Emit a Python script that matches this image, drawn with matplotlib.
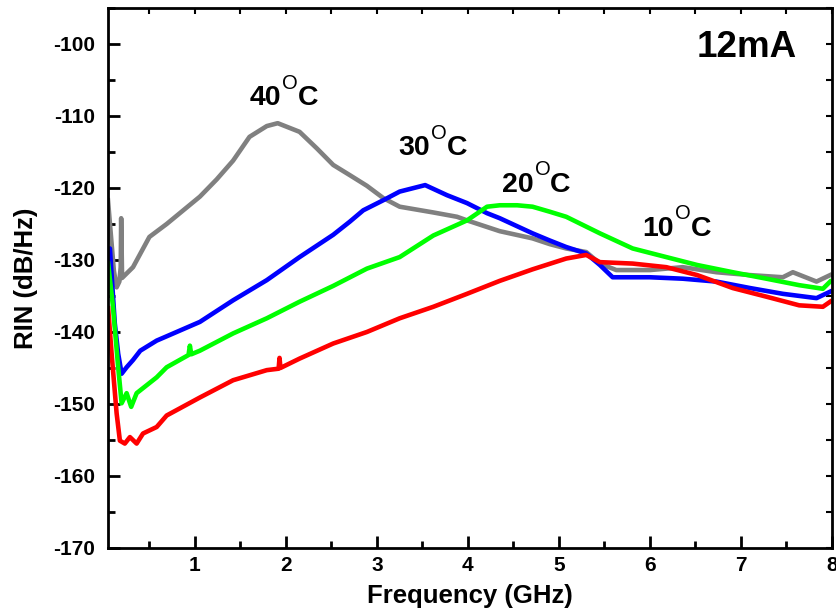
import matplotlib
matplotlib.use('Agg')
import matplotlib.pyplot as plt
from matplotlib.ticker import MultipleLocator

plt.rcParams['font.family'] = ['Liberation Sans', 'DejaVu Sans']
plt.rcParams['font.weight'] = 'bold'
plt.rcParams['axes.unicode_minus'] = False

# RIN spectra at 12 mA (GHz, dB/Hz)
f_40 = [0.045, 0.08, 0.11, 0.14, 0.17, 0.185, 0.19, 0.2, 0.32, 0.5, 0.69, 1.055, 1.24,
        1.42, 1.6, 1.79, 1.91, 2.15, 2.34, 2.52, 2.7, 2.89, 3.07, 3.25, 3.62, 3.88,
        3.99, 4.35, 4.71, 4.9, 5.08, 5.3, 5.45, 5.63, 6.0, 6.36, 6.73, 7.1, 7.46, 7.57,
        7.83, 7.98]
rin_40 = [-121.7, -127.0, -131.5, -133.8, -133.0, -131.0, -124.2, -132.5, -131.0, -126.8,
          -125.0, -121.2, -118.8, -116.2, -112.9, -111.4, -111.0, -112.2, -114.5, -116.8,
          -118.2, -119.7, -121.4, -122.6, -123.4, -124.0, -124.5, -126.0, -127.0, -127.8,
          -128.4, -128.9, -130.5, -131.4, -131.4, -131.0, -131.7, -132.1, -132.4, -131.7,
          -133.0, -132.1]

f_30 = [0.045, 0.066, 0.12, 0.157, 0.195, 0.25, 0.32, 0.4, 0.58, 0.69, 1.055, 1.42, 1.79,
        2.15, 2.52, 2.7, 2.85, 3.07, 3.25, 3.53, 3.77, 3.99, 4.21, 4.35, 4.71, 4.9, 5.08,
        5.3, 5.45, 5.59, 6.0, 6.36, 6.73, 7.1, 7.46, 7.83, 7.98]
rin_30 = [-130.0, -128.4, -138.8, -143.0, -145.8, -144.9, -143.9, -142.6, -141.2, -140.6,
          -138.6, -135.6, -132.8, -129.6, -126.5, -124.7, -123.1, -121.7, -120.5, -119.6,
          -121.0, -122.1, -123.5, -124.2, -126.3, -127.3, -128.2, -129.1, -130.7, -132.4,
          -132.4, -132.6, -133.0, -133.9, -134.7, -135.3, -134.4]

f_20 = [0.047, 0.1, 0.157, 0.195, 0.25, 0.3, 0.36, 0.58, 0.69, 0.93, 0.945, 0.96, 1.055,
        1.42, 1.79, 2.15, 2.52, 2.89, 3.25, 3.62, 3.99, 4.21, 4.35, 4.54, 4.71, 4.9,
        5.08, 5.45, 5.81, 6.18, 6.52, 6.91, 7.28, 7.64, 7.9, 7.98]
rin_20 = [-130.5, -136.5, -144.9, -149.9, -148.5, -150.4, -148.5, -146.3, -144.9, -143.2,
          -141.9, -143.1, -142.6, -140.2, -138.1, -135.8, -133.6, -131.2, -129.6, -126.6,
          -124.5, -122.6, -122.4, -122.4, -122.6, -123.3, -124.0, -126.3, -128.4, -129.6,
          -130.7, -131.7, -132.6, -133.5, -134.0, -133.0]

f_10 = [0.047, 0.085, 0.14, 0.176, 0.23, 0.286, 0.36, 0.43, 0.58, 0.69, 1.055, 1.42,
        1.79, 1.92, 1.93, 1.94, 2.15, 2.52, 2.89, 3.25, 3.62, 3.99, 4.35, 4.71, 5.08,
        5.3, 5.45, 5.81, 6.18, 6.52, 6.91, 7.28, 7.64, 7.9, 7.98]
rin_10 = [-136.7, -143.0, -151.3, -155.1, -155.5, -154.6, -155.5, -154.1, -153.2, -151.6,
          -149.1, -146.7, -145.3, -145.1, -143.6, -145.0, -143.7, -141.6, -140.0, -138.1,
          -136.5, -134.7, -132.9, -131.3, -129.8, -129.3, -130.3, -130.5, -131.0, -132.1,
          -133.9, -135.1, -136.3, -136.5, -135.8]

# label text and anchor (GHz, dB/Hz baseline)
temp_labels = ['40', '30', '20', '10']
temp_x = [1.60, 3.23, 4.37, 5.91]
temp_y = [-108.5, -115.4, -120.5, -126.6]

fig = plt.figure(figsize=(8.37, 6.15), dpi=100)
ax = fig.add_axes([0.129, 0.109, 0.865, 0.878])

ax.plot(f_40, rin_40, color='#808080', lw=3.3)
ax.plot(f_30, rin_30, color='#0000ff', lw=3.3)
ax.plot(f_20, rin_20, color='#00ff00', lw=3.3)
ax.plot(f_10, rin_10, color='#ff0000', lw=3.3)

ax.set_xlim(0.045, 8)
ax.set_ylim(-170, -95)
ax.xaxis.set_major_locator(MultipleLocator(1))
ax.xaxis.set_minor_locator(MultipleLocator(0.5))
ax.yaxis.set_major_locator(MultipleLocator(10))
ax.yaxis.set_minor_locator(MultipleLocator(5))
ax.tick_params(which='major', direction='in', length=8.5, width=2, labelsize=15)
ax.tick_params(which='minor', direction='in', length=5, width=2)
ax.tick_params(axis='y', pad=9)
ax.tick_params(axis='x', pad=6)
for s in ax.spines.values():
    s.set_linewidth(2)

# short ticks on top and right edges
top = ax.secondary_xaxis('top')
top.xaxis.set_major_locator(MultipleLocator(1))
top.xaxis.set_minor_locator(MultipleLocator(0.5))
top.tick_params(which='both', direction='in', length=4, width=1.5, labeltop=False)
right = ax.secondary_yaxis('right')
right.yaxis.set_major_locator(MultipleLocator(5))
right.tick_params(which='both', direction='in', length=4, width=1.5, labelright=False)

ax.set_xlabel('Frequency (GHz)', fontsize=18.5, fontweight='bold', labelpad=6)
ax.set_ylabel('RIN (dB/Hz)', fontsize=18.5, fontweight='bold', labelpad=11)

for txt, x, y in zip(temp_labels, temp_x, temp_y):
    t1 = ax.text(x, y, txt, fontsize=20.5, fontweight='bold', ha='left', va='baseline')
    t2 = ax.annotate('O', xy=(1, 0.7), xycoords=t1, xytext=(1, 0),
                     textcoords='offset points', fontsize=14.5, fontweight='normal',
                     ha='left', va='bottom')
    ax.annotate('C', xy=(1, 0), xycoords=(t2, t1), xytext=(0, 0),
                textcoords='offset points', fontsize=20.5, fontweight='bold',
                ha='left', va='bottom')

ax.text(6.51, -101.8, '12mA', fontsize=26.5, fontweight='bold', ha='left', va='baseline')

fig.savefig('out.png', dpi=100)
